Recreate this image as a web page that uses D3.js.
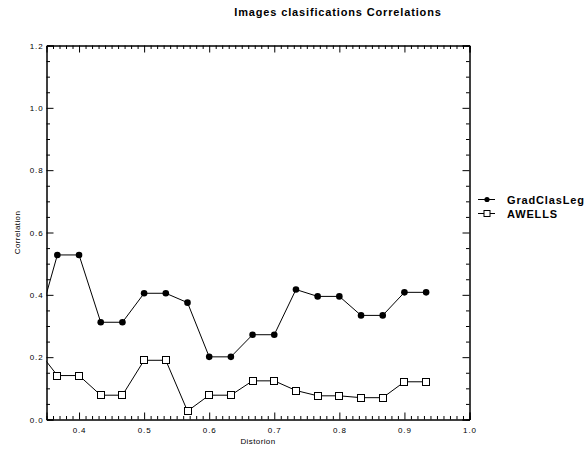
<!DOCTYPE html>
<html>
<head>
<meta charset="utf-8">
<script src="https://cdn.jsdelivr.net/npm/d3@7"></script>
<style>
  html, body { margin: 0; padding: 0; background: #fff; }
  svg { display: block; }
  text { font-family: "Liberation Sans", Arial, Helvetica, sans-serif; fill: #000; }
</style>
</head>
<body>
<svg id="chart" width="587" height="452"></svg>
<script>
// Distortion levels (step 1/30); the first one lies left of the visible range and is clipped
const distortion = [10, 11, 12, 13, 14, 15, 16, 17, 18, 19, 20, 21, 22, 23, 24, 25, 26, 27, 28].map(i => i / 30);
const gradClasLeg = [0.281, 0.528, 0.528, 0.312, 0.312, 0.405, 0.405, 0.375, 0.201, 0.201,
                     0.272, 0.272, 0.417, 0.395, 0.395, 0.334, 0.334, 0.408, 0.408];
const awells = [0.231, 0.141, 0.141, 0.078, 0.078, 0.190, 0.190, 0.027, 0.078, 0.078,
                0.124, 0.124, 0.093, 0.076, 0.076, 0.070, 0.070, 0.121, 0.121];
const seriesNames = ["GradClasLeg", "AWELLS"];
const xMajorTicks = [0.4, 0.5, 0.6, 0.7, 0.8, 0.9, 1.0];
const yMajorTicks = [0.0, 0.2, 0.4, 0.6, 0.8, 1.0, 1.2];
const titleText = "Images clasifications Correlations";
const xTitle = "Distorion";
const yTitle = "Correlation";

const svg = d3.select("#chart");
const L = 46.5, R = 469.5, T = 45.5, B = 419.5;

const x = d3.scaleLinear().domain([0.35, 1.0]).range([L, R]);
const y = d3.scaleLinear().domain([0, 1.2]).range([B, T]);

const xMinor = d3.range(36, 100).map(v => v / 100).filter(v => !xMajorTicks.some(m => Math.abs(m - v) < 1e-9));
const yMinor = d3.range(1, 24).map(v => v * 0.05).filter(v => !yMajorTicks.some(m => Math.abs(m - v) < 1e-9));
const fmt = d3.format(".1f");

function styleAxis(g) {
  g.select(".domain").attr("stroke", "#000").attr("stroke-width", 1);
  g.selectAll(".tick line").attr("stroke", "#000").attr("stroke-width", 1);
  g.selectAll(".tick text")
    .attr("font-size", "8px")
    .attr("letter-spacing", "0.9px")
    .attr("font-family", '"Liberation Sans", Arial, sans-serif');
}

// Bottom axis: minor ticks every 0.01, labelled majors every 0.1 (ticks point inward)
svg.append("g").attr("transform", `translate(0,${B})`)
  .call(d3.axisBottom(x).tickValues(xMinor).tickSize(-3.5).tickFormat(""))
  .call(styleAxis);
svg.append("g").attr("transform", `translate(0,${B})`)
  .call(d3.axisBottom(x).tickValues(xMajorTicks).tickSize(-7).tickPadding(8).tickFormat(fmt))
  .call(styleAxis);
// Top axis mirrors the bottom one without labels
svg.append("g").attr("transform", `translate(0,${T})`)
  .call(d3.axisTop(x).tickValues(xMinor).tickSize(-3.5).tickFormat(""))
  .call(styleAxis);
svg.append("g").attr("transform", `translate(0,${T})`)
  .call(d3.axisTop(x).tickValues(xMajorTicks).tickSize(-7).tickFormat(""))
  .call(styleAxis);
// Left axis: minor ticks every 0.05, labelled majors every 0.2
svg.append("g").attr("transform", `translate(${L},0)`)
  .call(d3.axisLeft(y).tickValues(yMinor).tickSize(-3.5).tickFormat(""))
  .call(styleAxis);
svg.append("g").attr("transform", `translate(${L},0)`)
  .call(d3.axisLeft(y).tickValues(yMajorTicks).tickSize(-7).tickPadding(3).tickFormat(fmt))
  .call(styleAxis);
// Right axis mirrors the left one without labels
svg.append("g").attr("transform", `translate(${R},0)`)
  .call(d3.axisRight(y).tickValues(yMinor).tickSize(-3.5).tickFormat(""))
  .call(styleAxis);
svg.append("g").attr("transform", `translate(${R},0)`)
  .call(d3.axisRight(y).tickValues(yMajorTicks).tickSize(-7).tickFormat(""))
  .call(styleAxis);

// Clip region for the data
svg.append("clipPath").attr("id", "plotClip")
  .append("rect").attr("x", L).attr("y", T - 5).attr("width", R - L).attr("height", B - T + 10);

const line = d3.line().x(d => x(d[0])).y(d => y(d[1]));
const plot = svg.append("g").attr("clip-path", "url(#plotClip)");

const s1 = distortion.map((d, i) => [d, gradClasLeg[i]]);
const s2 = distortion.map((d, i) => [d, awells[i]]);

plot.append("path").datum(s1).attr("d", line)
  .attr("fill", "none").attr("stroke", "#000").attr("stroke-width", 1);
plot.append("path").datum(s2).attr("d", line)
  .attr("fill", "none").attr("stroke", "#000").attr("stroke-width", 1);

const inRange = d => d[0] >= 0.35 && d[0] <= 1.0;
plot.selectAll("circle.gc").data(s1.filter(inRange)).join("circle")
  .attr("class", "gc")
  .attr("cx", d => x(d[0])).attr("cy", d => y(d[1])).attr("r", 3.3)
  .attr("fill", "#000");
plot.selectAll("rect.aw").data(s2.filter(inRange)).join("rect")
  .attr("class", "aw")
  .attr("x", d => Math.round(x(d[0])) - 3.5).attr("y", d => Math.round(y(d[1])) - 3.5)
  .attr("width", 7).attr("height", 7)
  .attr("fill", "#fff").attr("stroke", "#000").attr("stroke-width", 1);

// Titles
svg.append("text").attr("x", 338).attr("y", 15.5).attr("text-anchor", "middle")
  .attr("font-size", "11px").attr("font-weight", "bold").attr("letter-spacing", "0.85px")
  .text(titleText);
svg.append("text").attr("x", (L + R) / 2).attr("y", 444).attr("text-anchor", "middle")
  .attr("font-size", "8px").attr("letter-spacing", "0.4px")
  .text(xTitle);
svg.append("text").attr("transform", `translate(20,${(T + B) / 2}) rotate(-90)`)
  .attr("text-anchor", "middle")
  .attr("font-size", "8px").attr("letter-spacing", "0.4px")
  .text(yTitle);

// Legend
const legend = svg.append("g");
const legY = [199.5, 213.5];
seriesNames.forEach((name, i) => {
  const g = legend.append("g").attr("transform", `translate(0,${legY[i]})`);
  g.append("line").attr("x1", 478).attr("x2", 495).attr("y1", 0).attr("y2", 0)
    .attr("stroke", "#000").attr("stroke-width", 1);
  if (i === 0) {
    g.append("circle").attr("cx", 487).attr("cy", 0).attr("r", 2.6).attr("fill", "#000");
  } else {
    g.append("rect").attr("x", 484).attr("y", -3).attr("width", 6).attr("height", 6)
      .attr("fill", "#fff").attr("stroke", "#000");
  }
  g.append("text").attr("x", 507).attr("y", 4).attr("font-size", "11px")
    .attr("font-weight", "bold").attr("letter-spacing", "0.85px").text(name);
});
</script>
</body>
</html>
